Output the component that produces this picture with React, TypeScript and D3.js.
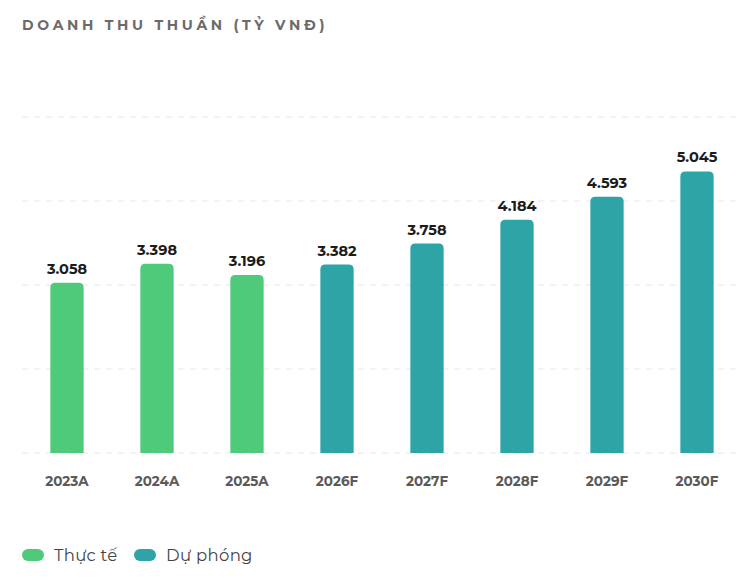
import React from "react";
import * as d3 from "d3";

const years = ["2023A", "2024A", "2025A", "2026F", "2027F", "2028F", "2029F", "2030F"];
const revenue = [3.058, 3.398, 3.196, 3.382, 3.758, 4.184, 4.593, 5.045];
const kinds = ["actual", "actual", "actual", "forecast", "forecast", "forecast", "forecast", "forecast"];
const gridTicks = [0, 1.5, 3, 4.5, 6];
const legendItems = [
    { key: "actual", label: "Thực tế" },
    { key: "forecast", label: "Dự phóng" },
];

const colors: Record<string, string> = { actual: "#4fc97a", forecast: "#2fa4a7" };
const font = "Montserrat, 'Open Sans', Lato, sans-serif";

const W = 743;
const H = 580;

// rect with rounded top corners only
const topRounded = (x: number, y: number, w: number, h: number, r: number) =>
    `M${x},${y + h}V${y + r}Q${x},${y} ${x + r},${y}H${x + w - r}Q${x + w},${y} ${x + w},${y + r}V${y + h}Z`;

const App: React.FC = () => {
    const x = d3.scaleBand<string>().domain(years).range([22, 742]).paddingInner(0.63).paddingOuter(0.315);
    const y = d3.scaleLinear().domain([0, 6]).range([453, 117]);
    const fmt = (v: number) => v.toFixed(3);

    return (
        <svg width={W} height={H} style={{ display: "block", position: "absolute", left: 0, top: 0, background: "#fff" }}>
            <text x={22} y={30} fontFamily={font} fontWeight={700} fontSize={14} letterSpacing={3.7} fill="#6b6b6b">
                DOANH THU THUẦN (TỶ VNĐ)
            </text>

            {gridTicks.map((t) => (
                <line key={t} x1={22} x2={742} y1={y(t)} y2={y(t)} stroke="#e6e6e6" strokeDasharray="6 6" />
            ))}

            {years.map((yr, i) => {
                const bx = x(yr)!;
                const bw = x.bandwidth();
                const top = y(revenue[i]) + 1;
                return (
                    <g key={yr}>
                        <path d={topRounded(bx, top, bw, y(0) - top, 5)} fill={colors[kinds[i]]} />
                        <text x={bx + bw / 2} y={top - 9} textAnchor="middle" fontFamily={font} fontWeight={700} fontSize={14.5} fill="#1c1c1c">
                            {fmt(revenue[i])}
                        </text>
                        <text x={bx + bw / 2} y={486} textAnchor="middle" fontFamily={font} fontWeight={700} fontSize={13.5} fill="#5a5a5a">
                            {yr}
                        </text>
                    </g>
                );
            })}

            {legendItems.map((it, i) => {
                const lx = i === 0 ? 22 : 134;
                return (
                    <g key={it.key}>
                        <rect x={lx} y={549} width={22} height={12} rx={6} fill={colors[it.key]} />
                        <text x={lx + 32} y={561} fontFamily={font} fontSize={16.5} letterSpacing={0.3} fill="#444">
                            {it.label}
                        </text>
                    </g>
                );
            })}
        </svg>
    );
};

export default App;
